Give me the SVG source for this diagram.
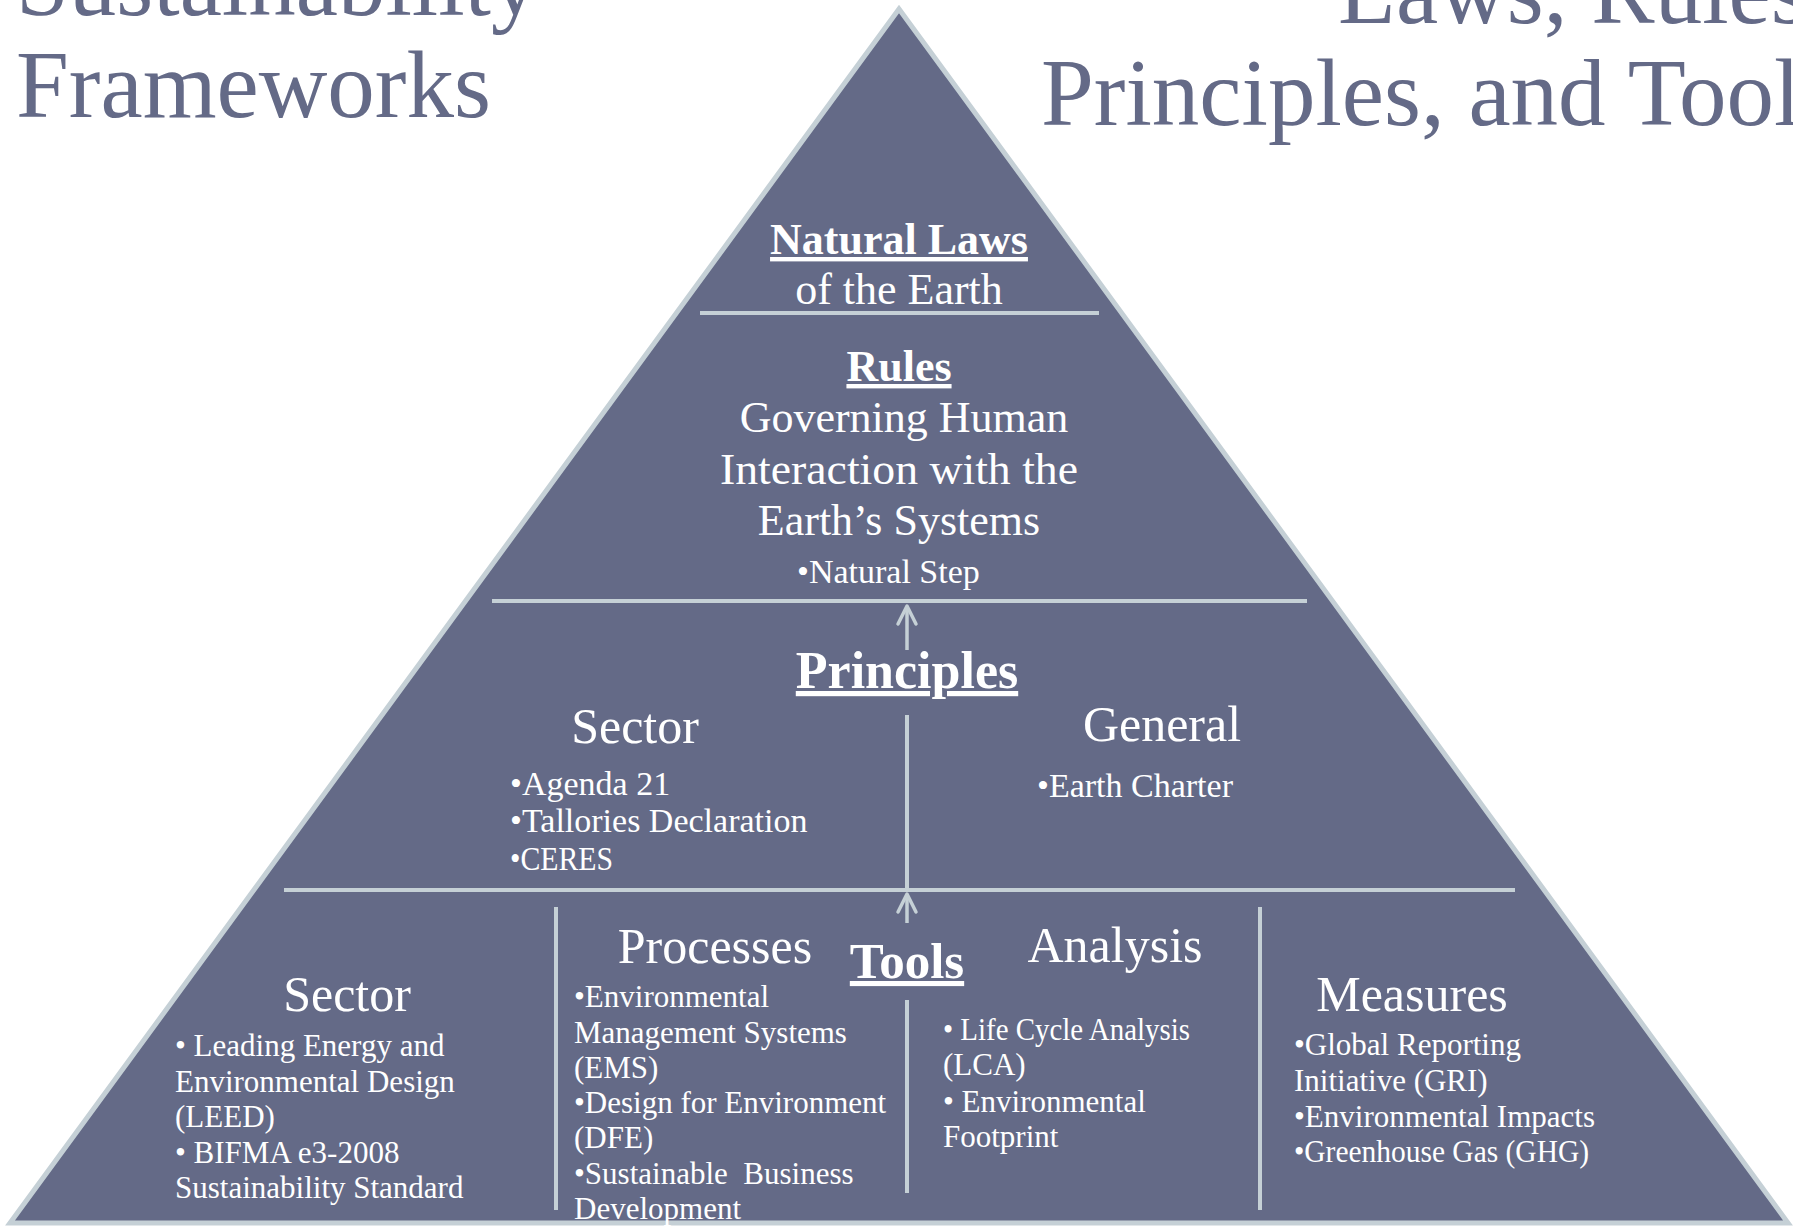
<svg xmlns="http://www.w3.org/2000/svg" width="1793" height="1226" viewBox="0 0 1793 1226">
  <style>
    .title { font-family: "Liberation Serif", serif; font-size: 95px; fill: #646a87; }
    .t { font-family: "Liberation Serif", serif; fill: #ffffff; }
    .main { font-size: 44px; }
    .hb { font-weight: bold; text-decoration: underline; }
    .hd { font-size: 50px; }
    .b34 { font-size: 34px; }
    .b31 { font-size: 31px; }
    .sep { stroke: #c5d0d6; stroke-width: 4; fill: none; }
    .arr { stroke: #c5d0d6; stroke-width: 3.5; fill: none; }
  </style>
  <defs>
    <marker id="chev" viewBox="-22 -12 26 24" refX="0" refY="0" markerWidth="26" markerHeight="24" markerUnits="userSpaceOnUse" orient="auto" overflow="visible">
      <path d="M -18 -9 L 0 0 L -18 9" stroke="#c5d0d6" stroke-width="3.5" fill="none" stroke-linecap="round" stroke-linejoin="round"/>
    </marker>
  </defs>
  <rect width="1793" height="1226" fill="#ffffff"/>

  <g id="title-left">
    <text class="title" x="16" y="15">Sustainability</text>
    <text class="title" x="16" y="117">Frameworks</text>
  </g>
  <g id="title-right">
    <text class="title" x="1338" y="23">Laws, Rules,</text>
    <text class="title" x="1041" y="125">Principles, and Tools</text>
  </g>

  <g id="pyramid">
    <polygon points="899,9 10,1223 1788,1223" fill="#646a87" stroke="#c5d0d6" stroke-width="5" stroke-linejoin="miter"/>
  </g>

  <g id="connectors">
    <line class="sep" x1="700" y1="313" x2="1099" y2="313"/>
    <line class="sep" x1="492" y1="601" x2="1307" y2="601"/>
    <line class="sep" x1="284" y1="890" x2="1515" y2="890"/>
    <line class="sep" x1="907" y1="715" x2="907" y2="890"/>
    <line class="sep" x1="556" y1="907" x2="556" y2="1210"/>
    <line class="sep" x1="907" y1="1000" x2="907" y2="1193"/>
    <line class="sep" x1="1260" y1="907" x2="1260" y2="1210"/>
    <line class="arr" x1="907" y1="650" x2="907" y2="606" marker-end="url(#chev)"/>
    <line class="arr" x1="907" y1="923" x2="907" y2="894" marker-end="url(#chev)"/>
  </g>

  <g id="natural-laws">
    <text class="t main hb" x="899" y="254" text-anchor="middle">Natural Laws</text>
    <text class="t main" x="899" y="304" text-anchor="middle">of the Earth</text>
  </g>

  <g id="rules">
    <text class="t main hb" x="899" y="381" text-anchor="middle">Rules</text>
    <text class="t main" x="904" y="432" text-anchor="middle">Governing Human</text>
    <text class="t main" x="899" y="484" text-anchor="middle" textLength="358" lengthAdjust="spacingAndGlyphs">Interaction with the</text>
    <text class="t main" x="899" y="535" text-anchor="middle">Earth’s Systems</text>
    <text class="t b34" x="797" y="583">•Natural Step</text>
  </g>

  <g id="principles">
    <text class="t hb" x="907" y="688" text-anchor="middle" font-size="52">Principles</text>
  </g>
  <g id="principles-sector">
    <text class="t hd" x="635" y="743" text-anchor="middle">Sector</text>
    <text class="t b34" x="510" y="795">•Agenda 21</text>
    <text class="t b34" x="510" y="832">•Tallories Declaration</text>
    <text class="t b34" x="510" y="870" textLength="103" lengthAdjust="spacingAndGlyphs">•CERES</text>
  </g>
  <g id="principles-general">
    <text class="t hd" x="1162" y="741" text-anchor="middle">General</text>
    <text class="t b34" x="1037" y="797">•Earth Charter</text>
  </g>

  <g id="tools">
    <text class="t hb" x="907" y="978" text-anchor="middle" font-size="51">Tools</text>
  </g>
  <g id="tools-sector">
    <text class="t hd" x="347" y="1011" text-anchor="middle">Sector</text>
    <text class="t b31" x="175" y="1056">• Leading Energy and</text>
    <text class="t b31" x="175" y="1092">Environmental Design</text>
    <text class="t b31" x="175" y="1127">(LEED)</text>
    <text class="t b31" x="175" y="1163">• BIFMA e3-2008</text>
    <text class="t b31" x="175" y="1198">Sustainability Standard</text>
  </g>
  <g id="tools-processes">
    <text class="t hd" x="715" y="963" text-anchor="middle">Processes</text>
    <text class="t b31" x="574" y="1007">•Environmental</text>
    <text class="t b31" x="574" y="1043">Management Systems</text>
    <text class="t b31" x="574" y="1078">(EMS)</text>
    <text class="t b31" x="574" y="1113">•Design for Environment</text>
    <text class="t b31" x="574" y="1148">(DFE)</text>
    <text class="t b31" x="574" y="1184" xml:space="preserve">•Sustainable  Business</text>
    <text class="t b31" x="574" y="1219">Development</text>
  </g>
  <g id="tools-analysis">
    <text class="t hd" x="1115" y="962" text-anchor="middle">Analysis</text>
    <text class="t b31" x="943" y="1040" textLength="247" lengthAdjust="spacingAndGlyphs">• Life Cycle Analysis</text>
    <text class="t b31" x="943" y="1075">(LCA)</text>
    <text class="t b31" x="943" y="1112">• Environmental</text>
    <text class="t b31" x="943" y="1147">Footprint</text>
  </g>
  <g id="tools-measures">
    <text class="t hd" x="1412" y="1011" text-anchor="middle">Measures</text>
    <text class="t b31" x="1294" y="1055">•Global Reporting</text>
    <text class="t b31" x="1294" y="1091">Initiative (GRI)</text>
    <text class="t b31" x="1294" y="1127">•Environmental Impacts</text>
    <text class="t b31" x="1294" y="1162" textLength="295" lengthAdjust="spacingAndGlyphs">•Greenhouse Gas (GHG)</text>
  </g>
</svg>
